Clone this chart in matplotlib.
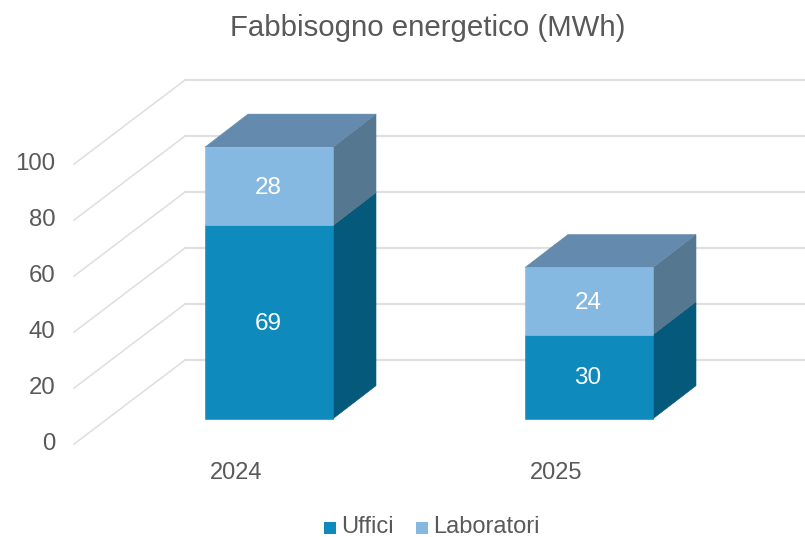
"""Fabbisogno energetico: stacked bars with a fake 3D look."""
import matplotlib
matplotlib.use("Agg")
import matplotlib.pyplot as plt
from matplotlib.patches import Polygon

plt.rcParams["font.family"] = ["Liberation Sans", "DejaVu Sans"]

# data
years = ["2024", "2025"]
uffici = [69, 30]
laboratori = [28, 24]
ticks = [0, 20, 40, 60, 80, 100]
series_names = ["Uffici", "Laboratori"]

# colours: front, top, side
C_UFF = ("#0E8ABD", "#0E8ABD", "#05597A")
C_LAB = ("#85B9E1", "#648BAE", "#557790")
C_GRID = "#E0E0E0"
C_TEXT = "#595959"

W, H = 805, 537
BASE, SCALE = 418.7, 2.8   # pixel row of value 0 at the bar plane, pixels per unit
BAR_W = 0.40          # in category units
DX, DY = 43 / 320, 33 / SCALE     # bar depth
# wall / floor offsets from bar plane
FRONT_X, FRONT_Y = -0.609, (BASE - 444) / SCALE
BACK_X, BACK_Y = -0.2625, (BASE - 360) / SCALE


def face(ax, pts, color, z=3):
    ax.add_patch(Polygon(pts, closed=True, facecolor=color, edgecolor=color,
                         lw=0.4, zorder=z))


def block(ax, c, y0, y1, pal):
    l, r = c - BAR_W / 2, c + BAR_W / 2
    face(ax, [(l, y0), (r, y0), (r, y1), (l, y1)], pal[0], 4)
    face(ax, [(r, y0), (r + DX, y0 + DY), (r + DX, y1 + DY), (r, y1)], pal[2], 3)
    return (l, r)


fig = plt.figure(figsize=(W / 100, H / 100), dpi=100)
ax = fig.add_axes([0, 0, 1, 1])
ax.set_xlim(-269 / 320, (805 - 269) / 320)
ax.set_ylim((BASE - 537) / SCALE, BASE / SCALE)
ax.axis("off")

# gridlines: diagonal on the side wall then flat along the back wall
x_end = ax.get_xlim()[1]
for t in ticks:
    ax.plot([FRONT_X, BACK_X], [t + FRONT_Y, t + BACK_Y], color=C_GRID, lw=1.2, zorder=1)
    ax.plot([BACK_X, x_end], [t + BACK_Y, t + BACK_Y], color=C_GRID, lw=1.6, zorder=1)
    ax.text(FRONT_X - 0.058, t + FRONT_Y + 0.9, str(t), ha="right", va="center_baseline",
            fontsize=17.3, color=C_TEXT)

for i, year in enumerate(years):
    u, l = uffici[i], laboratori[i]
    block(ax, i, 0, u, C_UFF)
    left, right = block(ax, i, u, u + l, C_LAB)
    top = u + l
    face(ax, [(left, top), (right, top), (right + DX, top + DY), (left + DX, top + DY)],
         C_LAB[1], 3)
    ax.text(i - 0.003, u / 2 + 0.3, str(u), ha="center", va="center_baseline", fontsize=17.5, color="white", zorder=5)
    ax.text(i - 0.003, u + l / 2 + 0.3, str(l), ha="center", va="center_baseline", fontsize=17.5, color="white", zorder=5)
    ax.text(i - 0.103, -18.5, year, ha="center", va="center_baseline", fontsize=17, color=C_TEXT)

fig.text(428 / W, 1 - 28.5 / H, "Fabbisogno energetico (MWh)", ha="center", va="center",
         fontsize=21.2, color=C_TEXT)

# legend
fig.patches.extend([
    plt.Rectangle((323.5 / W, 1 - 534 / H), 12 / W, 12 / H, transform=fig.transFigure, color=C_UFF[0], lw=0),
    plt.Rectangle((415.5 / W, 1 - 534 / H), 12 / W, 12 / H, transform=fig.transFigure, color=C_LAB[0], lw=0),
])
fig.text(341 / W, 1 - 527 / H, series_names[0], ha="left", va="center", fontsize=17, color=C_TEXT)
fig.text(433 / W, 1 - 527 / H, series_names[1], ha="left", va="center", fontsize=17, color=C_TEXT)

fig.savefig("out.png", dpi=100, facecolor="white")
